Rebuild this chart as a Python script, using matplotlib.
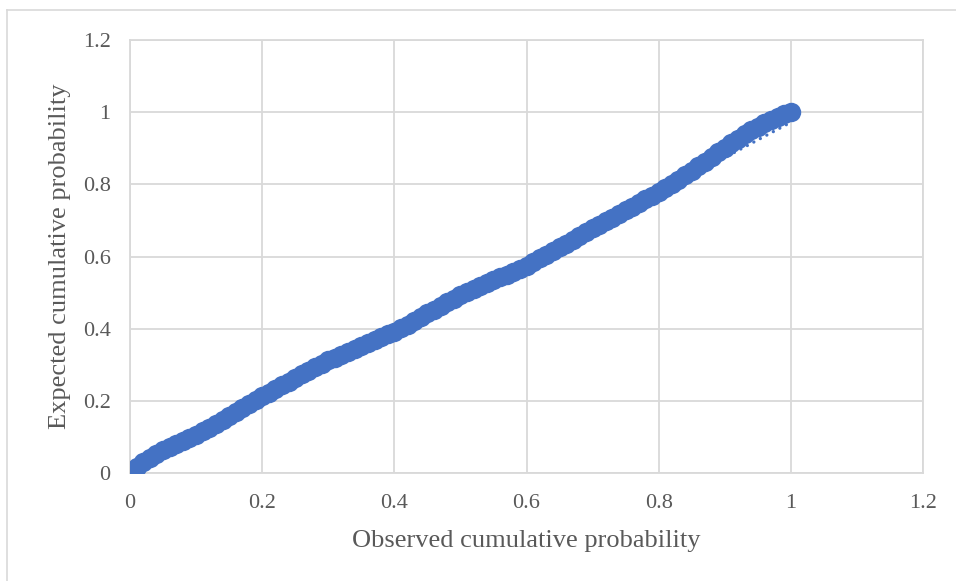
import matplotlib
matplotlib.use('Agg')
import matplotlib.pyplot as plt
from matplotlib.lines import Line2D
import numpy as np

BLUE = '#4472C4'
GRID = '#D9D9D9'
TEXT = '#595959'

observed = [
    0.00, 0.01, 0.02, 0.03, 0.04, 0.05, 0.06, 0.07, 0.08, 0.09,
    0.10, 0.11, 0.12, 0.13, 0.14, 0.15, 0.16, 0.17, 0.18, 0.19,
    0.20, 0.21, 0.22, 0.23, 0.24, 0.25, 0.26, 0.27, 0.28, 0.29,
    0.30, 0.31, 0.32, 0.33, 0.34, 0.35, 0.36, 0.37, 0.38, 0.39,
    0.40, 0.41, 0.42, 0.43, 0.44, 0.45, 0.46, 0.47, 0.48, 0.49,
    0.50, 0.51, 0.52, 0.53, 0.54, 0.55, 0.56, 0.57, 0.58, 0.59,
    0.60, 0.61, 0.62, 0.63, 0.64, 0.65, 0.66, 0.67, 0.68, 0.69,
    0.70, 0.71, 0.72, 0.73, 0.74, 0.75, 0.76, 0.77, 0.78, 0.79,
    0.80, 0.81, 0.82, 0.83, 0.84, 0.85, 0.86, 0.87, 0.88, 0.89,
    0.90, 0.91, 0.92, 0.93, 0.94, 0.95, 0.96, 0.97, 0.98, 0.99,
    1.00,
]
expected = [
    0.000, 0.016, 0.030, 0.042, 0.053, 0.063, 0.072, 0.081, 0.089, 0.097,
    0.106, 0.116, 0.126, 0.136, 0.147, 0.158, 0.169, 0.180, 0.191, 0.202,
    0.213, 0.223, 0.233, 0.243, 0.253, 0.263, 0.273, 0.283, 0.293, 0.303,
    0.312, 0.320, 0.328, 0.336, 0.344, 0.352, 0.360, 0.368, 0.376, 0.384,
    0.392, 0.401, 0.411, 0.421, 0.432, 0.443, 0.453, 0.463, 0.473, 0.483,
    0.493, 0.502, 0.510, 0.518, 0.526, 0.534, 0.542, 0.550, 0.558, 0.566,
    0.575, 0.585, 0.595, 0.605, 0.615, 0.625, 0.636, 0.646, 0.656, 0.667,
    0.678, 0.688, 0.698, 0.708, 0.718, 0.728, 0.738, 0.748, 0.758, 0.768,
    0.779, 0.790, 0.801, 0.813, 0.825, 0.837, 0.850, 0.863, 0.876, 0.889,
    0.902, 0.915, 0.927, 0.939, 0.950, 0.960, 0.970, 0.979, 0.987, 0.994,
    1.000,
]
# linear trendline as drawn by the spreadsheet
trend_slope = 0.978
trend_intercept = -0.006

ticks = [0, 0.2, 0.4, 0.6, 0.8, 1.0, 1.2]
tick_labels = ['0', '0.2', '0.4', '0.6', '0.8', '1', '1.2']

plt.rcParams['font.family'] = ['Liberation Serif', 'DejaVu Serif']

fig = plt.figure(figsize=(9.56, 5.81), dpi=100)
ax = fig.add_axes([130 / 956, 1 - 473 / 581, 793 / 956, 433 / 581])

ax.plot(observed, expected, linestyle='none', marker='o', markersize=14,
        markerfacecolor=BLUE, markeredgewidth=0, zorder=3)

xs = np.array([min(observed), max(observed)])
ax.plot(xs, trend_slope * xs + trend_intercept, color=BLUE, linewidth=2.4,
        linestyle=(0, (0.01, 2.2)), dash_capstyle='round', zorder=4)

ax.set_xlim(0, 1.2)
ax.set_ylim(0, 1.2)
ax.set_xticks(ticks)
ax.set_xticklabels(tick_labels)
ax.set_yticks(ticks)
ax.set_yticklabels(tick_labels)
ax.tick_params(length=0, labelsize=16, labelcolor=TEXT)
ax.tick_params(axis='x', pad=15)
ax.tick_params(axis='y', pad=14)
ax.grid(True, color=GRID, linewidth=1.3, zorder=0)
ax.set_axisbelow(True)
for side in ax.spines.values():
    side.set_color(GRID)
    side.set_linewidth(1.3)

ax.set_xlabel('Observed cumulative probability', fontsize=19, color=TEXT)
ax.set_ylabel('Expected cumulative probability', fontsize=19, color=TEXT)
ax.xaxis.set_label_coords(0.5, (473 - 541) / 433)
ax.xaxis.label.set_va('center')
ax.yaxis.set_label_coords((60 - 130) / 793, 0.5)
ax.yaxis.label.set_va('center')

# chart area frame (left and top edges visible)
fig.add_artist(Line2D([7 / 956, 7 / 956], [0, 1 - 10 / 581],
                      transform=fig.transFigure, color=GRID, linewidth=1.2))
fig.add_artist(Line2D([7 / 956, 1], [1 - 10 / 581, 1 - 10 / 581],
                      transform=fig.transFigure, color=GRID, linewidth=1.2))

fig.savefig('out.png', dpi=100)
